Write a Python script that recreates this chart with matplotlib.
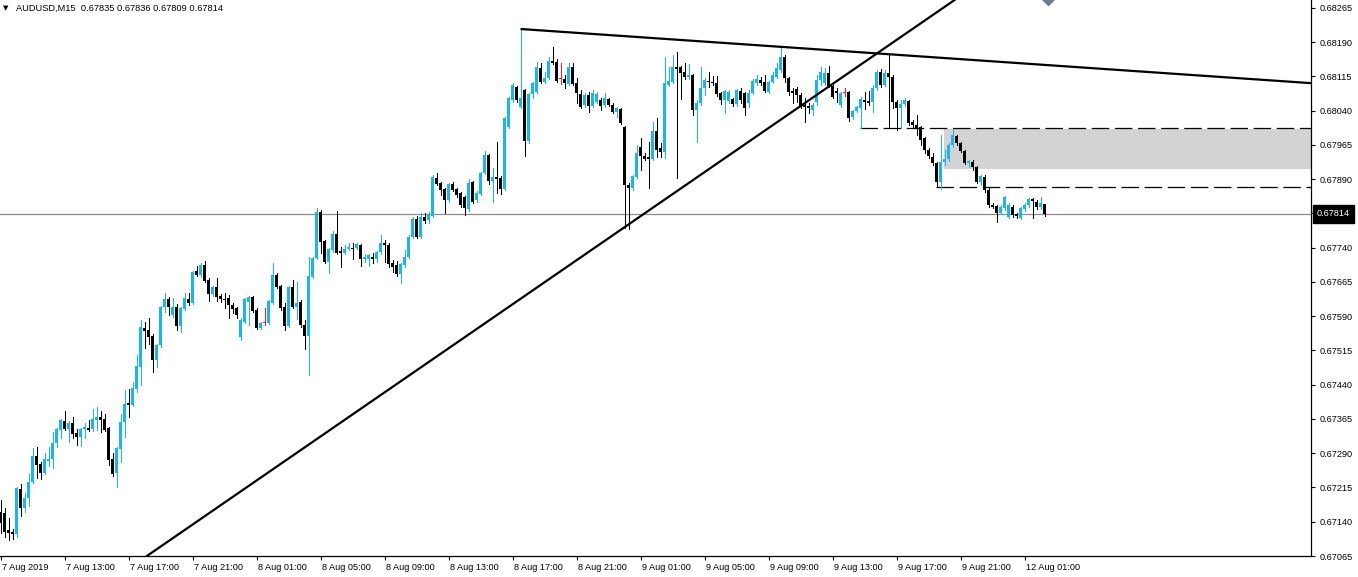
import matplotlib
matplotlib.use('Agg')
import matplotlib.pyplot as plt
import matplotlib.transforms as mtransforms
from matplotlib.patches import Rectangle
import numpy as np

# ---- data (AUDUSD M15, one bar per 15 min) ----
symbol = 'AUDUSD,M15'

opens = [
    0.67161, 0.67159, 0.67122, 0.67117, 0.67113, 0.67212, 0.67170, 0.67192, 0.67227, 0.67284,
    0.67266, 0.67247, 0.67274, 0.67277, 0.67312, 0.67341, 0.67361, 0.67343, 0.67356, 0.67334,
    0.67325, 0.67343, 0.67345, 0.67343, 0.67363, 0.67369, 0.67365, 0.67345, 0.67277, 0.67247,
    0.67299, 0.67358, 0.67400, 0.67396, 0.67431, 0.67479, 0.67564, 0.67560, 0.67547, 0.67494,
    0.67527, 0.67610, 0.67628, 0.67593, 0.67610, 0.67569, 0.67606, 0.67628, 0.67619, 0.67689,
    0.67680, 0.67702, 0.67669, 0.67639, 0.67654, 0.67634, 0.67628, 0.67630, 0.67615, 0.67608,
    0.67544, 0.67577, 0.67621, 0.67632, 0.67604, 0.67564, 0.67575, 0.67575, 0.67619, 0.67680,
    0.67656, 0.67610, 0.67569, 0.67654, 0.67610, 0.67621, 0.67571, 0.67547, 0.67676, 0.67717,
    0.67818, 0.67755, 0.67709, 0.67735, 0.67770, 0.67733, 0.67728, 0.67737, 0.67739, 0.67739,
    0.67746, 0.67715, 0.67715, 0.67720, 0.67715, 0.67731, 0.67750, 0.67746, 0.67707, 0.67702,
    0.67682, 0.67702, 0.67720, 0.67763, 0.67803, 0.67763, 0.67807, 0.67801, 0.67809, 0.67893,
    0.67882, 0.67869, 0.67845, 0.67880, 0.67869, 0.67860, 0.67851, 0.67825, 0.67884, 0.67845,
    0.67858, 0.67904, 0.67943, 0.67886, 0.67895, 0.67893, 0.67869, 0.68004, 0.68063, 0.68092,
    0.68048, 0.68085, 0.67974, 0.68077, 0.68081, 0.68134, 0.68103, 0.68112, 0.68149, 0.68147,
    0.68109, 0.68109, 0.68099, 0.68136, 0.68101, 0.68077, 0.68053, 0.68074, 0.68050, 0.68059,
    0.68063, 0.68053, 0.68066, 0.68053, 0.68037, 0.68044, 0.68004, 0.67877, 0.67871, 0.67895,
    0.67961, 0.67941, 0.67939, 0.67934, 0.67996, 0.67958, 0.67950, 0.68096, 0.68103, 0.68136,
    0.68136, 0.68125, 0.68114, 0.68118, 0.68042, 0.68057, 0.68090, 0.68105, 0.68103, 0.68101,
    0.68079, 0.68063, 0.68061, 0.68066, 0.68055, 0.68083, 0.68079, 0.68057, 0.68079, 0.68101,
    0.68107, 0.68103, 0.68081, 0.68103, 0.68114, 0.68129, 0.68158, 0.68112, 0.68083, 0.68088,
    0.68074, 0.68053, 0.68050, 0.68042, 0.68059, 0.68107, 0.68101, 0.68123, 0.68094, 0.68083,
    0.68053, 0.68079, 0.68081, 0.68026, 0.68039, 0.68046, 0.68063, 0.68061, 0.68059, 0.68090,
    0.68125, 0.68096, 0.68123, 0.68114, 0.68059, 0.68046, 0.68055, 0.68061, 0.68015, 0.68009,
    0.68004, 0.67980, 0.67954, 0.67939, 0.67925, 0.67884, 0.67928, 0.67934, 0.67965, 0.67985,
    0.67969, 0.67952, 0.67925, 0.67928, 0.67917, 0.67884, 0.67895, 0.67866, 0.67834, 0.67831,
    0.67816, 0.67827, 0.67807, 0.67829, 0.67814, 0.67805, 0.67825, 0.67834, 0.67847, 0.67840,
    0.67829, 0.67835,
]

highs = [
    0.67188, 0.67170, 0.67148, 0.67124, 0.67216, 0.67223, 0.67203, 0.67244, 0.67301, 0.67304,
    0.67271, 0.67290, 0.67304, 0.67336, 0.67345, 0.67365, 0.67382, 0.67361, 0.67369, 0.67343,
    0.67345, 0.67356, 0.67363, 0.67387, 0.67391, 0.67382, 0.67376, 0.67347, 0.67290, 0.67304,
    0.67376, 0.67428, 0.67431, 0.67446, 0.67505, 0.67582, 0.67577, 0.67586, 0.67551, 0.67529,
    0.67612, 0.67641, 0.67632, 0.67630, 0.67617, 0.67610, 0.67641, 0.67641, 0.67689, 0.67700,
    0.67707, 0.67711, 0.67674, 0.67656, 0.67674, 0.67639, 0.67641, 0.67636, 0.67619, 0.67610,
    0.67586, 0.67630, 0.67634, 0.67634, 0.67608, 0.67577, 0.67608, 0.67625, 0.67707, 0.67685,
    0.67658, 0.67619, 0.67656, 0.67669, 0.67665, 0.67625, 0.67582, 0.67720, 0.67720, 0.67827,
    0.67823, 0.67757, 0.67739, 0.67777, 0.67820, 0.67742, 0.67746, 0.67750, 0.67750, 0.67750,
    0.67748, 0.67726, 0.67726, 0.67728, 0.67733, 0.67768, 0.67757, 0.67750, 0.67713, 0.67711,
    0.67707, 0.67735, 0.67768, 0.67807, 0.67809, 0.67816, 0.67816, 0.67818, 0.67899, 0.67904,
    0.67884, 0.67871, 0.67882, 0.67884, 0.67871, 0.67862, 0.67853, 0.67891, 0.67886, 0.67864,
    0.67906, 0.67952, 0.67945, 0.67915, 0.67972, 0.67897, 0.68026, 0.68070, 0.68101, 0.68094,
    0.68219, 0.68088, 0.68079, 0.68103, 0.68147, 0.68145, 0.68125, 0.68158, 0.68180, 0.68153,
    0.68145, 0.68118, 0.68145, 0.68145, 0.68112, 0.68085, 0.68079, 0.68081, 0.68085, 0.68081,
    0.68068, 0.68079, 0.68068, 0.68057, 0.68048, 0.68046, 0.68007, 0.67882, 0.67899, 0.67965,
    0.67980, 0.67947, 0.67972, 0.68015, 0.68024, 0.67969, 0.68158, 0.68136, 0.68162, 0.68169,
    0.68138, 0.68145, 0.68142, 0.68120, 0.68063, 0.68136, 0.68112, 0.68125, 0.68116, 0.68116,
    0.68081, 0.68085, 0.68085, 0.68068, 0.68088, 0.68090, 0.68081, 0.68085, 0.68109, 0.68118,
    0.68114, 0.68118, 0.68105, 0.68125, 0.68145, 0.68180, 0.68162, 0.68114, 0.68090, 0.68092,
    0.68079, 0.68068, 0.68057, 0.68057, 0.68118, 0.68136, 0.68134, 0.68138, 0.68101, 0.68090,
    0.68081, 0.68090, 0.68083, 0.68042, 0.68050, 0.68070, 0.68081, 0.68083, 0.68096, 0.68129,
    0.68131, 0.68129, 0.68164, 0.68118, 0.68063, 0.68063, 0.68068, 0.68063, 0.68020, 0.68031,
    0.68007, 0.67982, 0.67958, 0.67947, 0.67928, 0.67987, 0.67954, 0.67969, 0.68000, 0.67987,
    0.67972, 0.67954, 0.67932, 0.67932, 0.67919, 0.67899, 0.67899, 0.67871, 0.67838, 0.67834,
    0.67834, 0.67853, 0.67838, 0.67834, 0.67816, 0.67829, 0.67838, 0.67849, 0.67849, 0.67845,
    0.67851, 0.67836,
]

lows = [
    0.67115, 0.67107, 0.67100, 0.67102, 0.67107, 0.67152, 0.67161, 0.67174, 0.67225, 0.67236,
    0.67233, 0.67244, 0.67262, 0.67258, 0.67304, 0.67323, 0.67341, 0.67315, 0.67323, 0.67308,
    0.67306, 0.67323, 0.67339, 0.67339, 0.67341, 0.67336, 0.67339, 0.67264, 0.67240, 0.67216,
    0.67271, 0.67325, 0.67369, 0.67393, 0.67424, 0.67439, 0.67520, 0.67529, 0.67468, 0.67479,
    0.67523, 0.67599, 0.67593, 0.67588, 0.67560, 0.67555, 0.67604, 0.67615, 0.67617, 0.67678,
    0.67676, 0.67665, 0.67623, 0.67634, 0.67623, 0.67621, 0.67608, 0.67586, 0.67597, 0.67586,
    0.67538, 0.67575, 0.67571, 0.67599, 0.67562, 0.67562, 0.67571, 0.67573, 0.67617, 0.67652,
    0.67604, 0.67560, 0.67566, 0.67608, 0.67584, 0.67566, 0.67518, 0.67461, 0.67674, 0.67715,
    0.67728, 0.67707, 0.67685, 0.67731, 0.67726, 0.67698, 0.67726, 0.67735, 0.67715, 0.67737,
    0.67700, 0.67709, 0.67700, 0.67707, 0.67709, 0.67726, 0.67709, 0.67698, 0.67687, 0.67678,
    0.67663, 0.67698, 0.67717, 0.67761, 0.67761, 0.67761, 0.67794, 0.67794, 0.67807, 0.67877,
    0.67855, 0.67816, 0.67840, 0.67864, 0.67851, 0.67829, 0.67812, 0.67820, 0.67838, 0.67840,
    0.67855, 0.67902, 0.67880, 0.67840, 0.67860, 0.67858, 0.67866, 0.68002, 0.68059, 0.68059,
    0.68046, 0.67941, 0.67969, 0.68068, 0.68079, 0.68101, 0.68101, 0.68109, 0.68143, 0.68103,
    0.68099, 0.68090, 0.68096, 0.68096, 0.68057, 0.68046, 0.68048, 0.68037, 0.68048, 0.68057,
    0.68042, 0.68048, 0.68050, 0.68035, 0.68026, 0.68011, 0.67783, 0.67781, 0.67866, 0.67893,
    0.67910, 0.67932, 0.67871, 0.67932, 0.67939, 0.67939, 0.67936, 0.68094, 0.68101, 0.67893,
    0.68066, 0.68109, 0.68109, 0.68031, 0.67972, 0.68053, 0.68074, 0.68092, 0.68096, 0.68072,
    0.68055, 0.68035, 0.68057, 0.68050, 0.68050, 0.68057, 0.68031, 0.68048, 0.68077, 0.68096,
    0.68096, 0.68081, 0.68079, 0.68101, 0.68112, 0.68125, 0.68103, 0.68074, 0.68057, 0.68059,
    0.68046, 0.68015, 0.68035, 0.68031, 0.68053, 0.68096, 0.68096, 0.68092, 0.68068, 0.68059,
    0.68048, 0.68072, 0.68018, 0.68022, 0.68037, 0.68002, 0.68044, 0.68053, 0.68037, 0.68085,
    0.68092, 0.68094, 0.68002, 0.68046, 0.67998, 0.68002, 0.68050, 0.68009, 0.68004, 0.67987,
    0.67965, 0.67947, 0.67936, 0.67921, 0.67873, 0.67869, 0.67921, 0.67930, 0.67961, 0.67965,
    0.67950, 0.67923, 0.67917, 0.67910, 0.67882, 0.67877, 0.67862, 0.67829, 0.67827, 0.67796,
    0.67814, 0.67823, 0.67805, 0.67807, 0.67805, 0.67803, 0.67820, 0.67829, 0.67805, 0.67825,
    0.67825, 0.67809,
]

closes = [
    0.67137, 0.67117, 0.67115, 0.67113, 0.67214, 0.67170, 0.67192, 0.67227, 0.67284, 0.67264,
    0.67247, 0.67277, 0.67278, 0.67312, 0.67343, 0.67363, 0.67343, 0.67356, 0.67332, 0.67325,
    0.67343, 0.67347, 0.67341, 0.67365, 0.67369, 0.67363, 0.67341, 0.67275, 0.67244, 0.67301,
    0.67358, 0.67398, 0.67396, 0.67433, 0.67481, 0.67566, 0.67558, 0.67544, 0.67494, 0.67527,
    0.67610, 0.67628, 0.67610, 0.67610, 0.67569, 0.67608, 0.67630, 0.67619, 0.67687, 0.67680,
    0.67702, 0.67667, 0.67639, 0.67654, 0.67632, 0.67628, 0.67626, 0.67615, 0.67606, 0.67593,
    0.67582, 0.67628, 0.67632, 0.67602, 0.67564, 0.67575, 0.67575, 0.67623, 0.67680, 0.67654,
    0.67608, 0.67569, 0.67654, 0.67610, 0.67619, 0.67571, 0.67547, 0.67678, 0.67717, 0.67818,
    0.67753, 0.67709, 0.67737, 0.67770, 0.67728, 0.67728, 0.67737, 0.67742, 0.67738, 0.67748,
    0.67715, 0.67720, 0.67724, 0.67715, 0.67731, 0.67750, 0.67746, 0.67704, 0.67698, 0.67682,
    0.67704, 0.67720, 0.67763, 0.67803, 0.67763, 0.67807, 0.67798, 0.67812, 0.67895, 0.67880,
    0.67866, 0.67845, 0.67880, 0.67866, 0.67855, 0.67834, 0.67827, 0.67882, 0.67840, 0.67860,
    0.67904, 0.67943, 0.67886, 0.67895, 0.67891, 0.67869, 0.68024, 0.68068, 0.68096, 0.68063,
    0.68068, 0.67974, 0.68077, 0.68101, 0.68136, 0.68103, 0.68112, 0.68149, 0.68145, 0.68105,
    0.68109, 0.68101, 0.68136, 0.68099, 0.68079, 0.68048, 0.68074, 0.68050, 0.68079, 0.68077,
    0.68050, 0.68068, 0.68053, 0.68037, 0.68046, 0.68013, 0.67877, 0.67871, 0.67897, 0.67947,
    0.67941, 0.67934, 0.67935, 0.67996, 0.67954, 0.67950, 0.68101, 0.68105, 0.68136, 0.68131,
    0.68123, 0.68114, 0.68118, 0.68042, 0.68057, 0.68090, 0.68107, 0.68102, 0.68100, 0.68077,
    0.68063, 0.68083, 0.68081, 0.68055, 0.68085, 0.68063, 0.68046, 0.68079, 0.68105, 0.68109,
    0.68101, 0.68083, 0.68103, 0.68118, 0.68134, 0.68158, 0.68112, 0.68081, 0.68079, 0.68074,
    0.68048, 0.68048, 0.68046, 0.68053, 0.68107, 0.68125, 0.68123, 0.68094, 0.68070, 0.68079,
    0.68079, 0.68079, 0.68024, 0.68039, 0.68048, 0.68066, 0.68060, 0.68057, 0.68090, 0.68125,
    0.68096, 0.68123, 0.68114, 0.68059, 0.68046, 0.68055, 0.68063, 0.68013, 0.68009, 0.68002,
    0.67976, 0.67954, 0.67941, 0.67925, 0.67884, 0.67928, 0.67934, 0.67965, 0.67987, 0.67969,
    0.67952, 0.67925, 0.67930, 0.67917, 0.67884, 0.67897, 0.67866, 0.67834, 0.67829, 0.67816,
    0.67829, 0.67851, 0.67834, 0.67812, 0.67809, 0.67827, 0.67834, 0.67847, 0.67842, 0.67829,
    0.67838, 0.67814,
]

time_labels = ['7 Aug 2019', '7 Aug 13:00', '7 Aug 17:00', '7 Aug 21:00',
               '8 Aug 01:00', '8 Aug 05:00', '8 Aug 09:00', '8 Aug 13:00',
               '8 Aug 17:00', '8 Aug 21:00', '9 Aug 01:00', '9 Aug 05:00',
               '9 Aug 09:00', '9 Aug 13:00', '9 Aug 17:00', '9 Aug 21:00',
               '12 Aug 01:00']
time_label_bars = [0, 16, 32, 48, 64, 80, 96, 112, 128, 144, 160, 176, 192, 208, 224, 240, 256]

price_ticks = [0.67065, 0.67140, 0.67215, 0.67290, 0.67365, 0.67440, 0.67515, 0.67590,
               0.67665, 0.67740, 0.67815, 0.67890, 0.67965, 0.68040, 0.68115, 0.68190, 0.68265]
hidden_tick = 0.67815  # covered by the bid label

# drawn objects (bar index, price)
up_trend_pts = [(36.6, 0.67065), (238.6, 0.68283)]
down_trend_pts = [(130.0, 0.68219), (195.0, 0.68180)]
upper_dash = (214.9, 0.68002)
lower_dash = (233.9, 0.67874)
zone_left, zone_low, zone_high = 235.95, 0.67912, 0.67999
arrow_obj = (261.9, 0.68290)

BLUE = '#18B6EC'
RED = '#E0202A'

# ---- figure ----
W, H = 1358, 577
fig = plt.figure(figsize=(W / 100, H / 100), dpi=100)
fig.patch.set_facecolor('white')
ax = fig.add_axes([0, 21 / H, 1311 / W, 556 / H])

x_min, x_max = -0.125, 327.625
ax.set_xlim(x_min, x_max)
ax.set_ylim(0.67065, 0.682825)

o = np.array(opens)
hi = np.array(highs)
lo = np.array(lows)
c = np.array(closes)
idx = np.arange(len(o))
colors = np.where(c > o, BLUE, np.where(c < o, 'black', RED))

# zone and level lines (behind candles)
ax.add_patch(Rectangle((zone_left, zone_low), x_max - zone_left, zone_high - zone_low,
                       facecolor='#D3D3D3', edgecolor='none', zorder=1))
ax.hlines(upper_dash[1], upper_dash[0], x_max, colors='black', linewidth=0.9,
          linestyles=(0, (14, 4.5)), zorder=2)
ax.hlines(lower_dash[1], lower_dash[0], x_max, colors='black', linewidth=0.9,
          linestyles=(0, (14, 4.5)), zorder=2)
ax.axhline(closes[-1], color='#8C8C8C', linewidth=0.9, zorder=1.5)

# candles
ax.vlines(idx, lo, hi, colors=colors, linewidth=0.72, zorder=3, antialiased=False)
body_low = np.minimum(o, c)
body_h = np.maximum(np.abs(c - o), 0.000022)
ax.bar(idx, body_h, bottom=body_low, width=0.8, color=colors, linewidth=0, zorder=3.1,
       antialiased=False)

# trend lines
ax.axline(up_trend_pts[0], up_trend_pts[1], color='black', linewidth=1.6, zorder=4)
(x1, y1), (x2, y2) = down_trend_pts
slope = (y2 - y1) / (x2 - x1)
ax.plot([x1, x_max], [y1, y1 + slope * (x_max - x1)], color='black', linewidth=1.6,
        zorder=4, solid_capstyle='butt')

# arrow object peeking from the top
ax.plot([arrow_obj[0]], [arrow_obj[1]], marker='D', markersize=8, color='#6E7C90',
        clip_on=True, zorder=5)

# ---- axes styling ----
for side in ['top', 'left']:
    ax.spines[side].set_visible(False)
for side in ['right', 'bottom']:
    ax.spines[side].set_color('black')
    ax.spines[side].set_linewidth(0.9)

font = 'Liberation Sans'
ax.yaxis.tick_right()
ax.set_yticks(price_ticks)
ax.set_yticklabels(['' if abs(p - hidden_tick) < 1e-9 else f'{p:.5f}' for p in price_ticks])
ax.tick_params(axis='y', direction='out', length=3, width=0.8, pad=3, labelsize=6.6,
               labelcolor='black', colors='black')
for lbl in ax.get_yticklabels():
    lbl.set_fontfamily(font)

ax.set_xticks(time_label_bars)
ax.set_xticklabels(time_labels)
ax.tick_params(axis='x', direction='out', length=3, width=0.8, pad=2, labelsize=6.6,
               labelcolor='black', colors='black')
shift = mtransforms.ScaledTranslation(2 / 100, 0, fig.dpi_scale_trans)
for lbl in ax.get_xticklabels():
    lbl.set_fontfamily(font)
    lbl.set_horizontalalignment('left')
    lbl.set_transform(lbl.get_transform() + shift)

# bid label on the price scale
bid_tr = mtransforms.blended_transform_factory(ax.transAxes, ax.transData) + \
    mtransforms.ScaledTranslation(6 / 100, 0, fig.dpi_scale_trans)
ax.text(1.0, closes[-1], f'{closes[-1]:.5f}', transform=bid_tr, ha='left', va='center',
        fontsize=6.6, family=font, color='white', clip_on=False, zorder=6,
        bbox=dict(boxstyle='square,pad=0.45', facecolor='black', edgecolor='black'))

# header line
fig.text(3 / W, 1 - 8 / H, '\u25bc', fontsize=5, family='DejaVu Sans', va='center', ha='left')
header = f'{symbol}  {opens[-1]:.5f} {highs[-1]:.5f} {lows[-1]:.5f} {closes[-1]:.5f}'
fig.text(16 / W, 1 - 8 / H, header, fontsize=6.7, family=font, va='center', ha='left')

fig.savefig('out.png', dpi=100)
